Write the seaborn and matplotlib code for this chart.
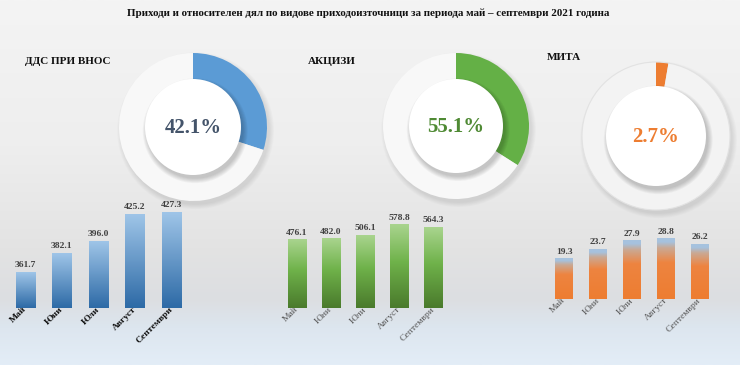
import numpy as np
import seaborn as sns
from matplotlib import pyplot as plt
from matplotlib.colors import LinearSegmentedColormap
from matplotlib.patches import Circle
from matplotlib.transforms import ScaledTranslation

months = ["Май", "Юни", "Юли", "Август", "Септември"]
vat_import = [361.7, 382.1, 396.0, 425.2, 427.3]
excise = [476.1, 482.0, 506.1, 578.8, 564.3]
customs = [19.3, 23.7, 27.9, 28.8, 26.2]

section_titles = ["ДДС ПРИ ВНОС", "АКЦИЗИ", "МИТА"]
shares = [42.1, 55.1, 2.7]
# arc that is actually painted on each ring in the picture (% of full circle)
ring_arc = [30.0, 34.0, 2.7]

title = "Приходи и относителен дял по видове приходоизточници за периода май – септември 2021 година"

W, H = 740, 365

sns.set_style("white")
plt.rcParams["font.family"] = ["Liberation Serif", "DejaVu Serif"]

fig = plt.figure(figsize=(W / 100, H / 100), dpi=100)


def px_axes(left, top, width, height, **kw):
    return fig.add_axes([left / W, 1 - (top + height) / H, width / W, height / H], **kw)


# background gradient
bg = px_axes(0, 0, W, H, zorder=-10)
stops = [(0.0, "#f4f4f4"), (0.4, "#eeeeee"), (0.68, "#e3e3e3"), (0.82, "#dcdee1"),
         (0.9, "#dde6ef"), (1.0, "#e3edf7")]
bg_cmap = LinearSegmentedColormap.from_list("bg", stops)
bg.imshow(np.linspace(0, 1, 256)[:, None], cmap=bg_cmap, aspect="auto", extent=[0, 1, 1, 0])
bg.set_axis_off()

fig.text(368 / W, 1 - 13 / H, title, ha="center", va="center", fontsize=7.9,
         fontweight="bold", color="#111111")

# donuts
donut_specs = [
    # cx, cy, r_out, r_in, arc colour, text colour, ring colour
    (193, 127, 74, 48, "#5b9bd5", "#44546a", "#f8f8f8"),
    (456, 126, 73, 47, "#64b046", "#4f8a34", "#f8f8f8"),
    (656, 136, 74, 50, "#ed7d31", "#ed7d31", "#f3f3f3"),
]
for (cx, cy, r_out, r_in, col, tcol, ring), share, arc in zip(donut_specs, shares, ring_arc):
    half = r_out + 12
    ax = px_axes(cx - half, cy - half, 2 * half, 2 * half)
    lim = half / r_out
    # soft shadow of the ring
    for k in range(6):
        ax.add_patch(Circle((0.035, -0.05), 1.0 + 0.012 * k, color="black", alpha=0.016, lw=0, zorder=0))
    wedges, _ = ax.pie([arc, 100 - arc], colors=[col, ring], startangle=90, counterclock=False,
                       radius=1.0, wedgeprops={"width": 1 - r_in / r_out + 0.05, "linewidth": 0})
    for w in wedges:
        w.set_zorder(1)
    if ring == "#f3f3f3":
        ax.add_patch(Circle((0, 0), 1.0, fill=False, ec="#e2e2e2", lw=0.8, zorder=2))
    rin = r_in / r_out
    for k in range(6):
        ax.add_patch(Circle((0.03, -0.05), rin + 0.012 * k, color="black", alpha=0.035, lw=0, zorder=3))
    ax.add_patch(Circle((0, 0), rin, color="white", lw=0, zorder=4))
    ax.text(0, -0.02, f"{share:.1f}%", ha="center", va="center", fontsize=15,
            fontweight="bold", color=tcol, zorder=5)
    ax.set_xlim(-lim, lim)
    ax.set_ylim(-lim, lim)
    ax.set_aspect("equal")
    ax.set_axis_off()

for txt, (x, y) in zip(section_titles, [(25, 61), (308, 61), (547, 57)]):
    fig.text(x / W, 1 - y / H, txt, ha="left", va="center", fontsize=8.0,
             fontweight="bold", color="#111111")


def gradient_bars(ax, stops):
    cmap = LinearSegmentedColormap.from_list("g", stops)
    y_lo = ax.get_ylim()[0]
    xl, yl = ax.get_xlim(), ax.get_ylim()
    for p in ax.patches:
        x, w = p.get_x(), p.get_width()
        y0 = max(p.get_y(), y_lo)
        y1 = p.get_y() + p.get_height()
        ax.imshow(np.linspace(1, 0, 128)[:, None], cmap=cmap, aspect="auto",
                  extent=[x, x + w, y0, y1], clip_path=p, zorder=2)
        p.set_facecolor("none")
    ax.set_xlim(xl)
    ax.set_ylim(yl)


bar_specs = [
    # data, left, width, bottom, height, ylim, gradient stops (bottom->top), label style
    (vat_import, 7, 182.5, 308, 108, (321.7, 441.7),
     [(0, "#2d6aa6"), (1, "#9fc5e8")], ("bold", "#111111")),
    (excise, 279.6, 171, 308.3, 100, (0, 697),
     [(0, "#4a7a2c"), (0.55, "#6fb24a"), (1, "#a9d48e")], ("normal", "#555555")),
    (customs, 547.2, 169.5, 299.3, 80, (0, 38.3),
     [(0, "#ed7d31"), (0.6, "#ee8440"), (0.84, "#caa994"), (0.94, "#a6c2de"), (1, "#a6c2de")],
     ("normal", "#555555")),
]

for vals, left, width, bottom, height, ylim, stops, (tw, tc) in bar_specs:
    ax = px_axes(left, bottom - height, width, height)
    ax.patch.set_alpha(0)
    sns.barplot(x=months, y=vals, order=months, ax=ax, width=0.53, color="#888888",
                linewidth=0, saturation=1)
    ax.set_xlim(-0.5, 4.5)
    ax.set_ylim(*ylim)
    gradient_bars(ax, stops)
    for c in ax.containers:
        ax.bar_label(c, fmt="%.1f", padding=2.5, fontsize=6.8, fontweight="bold", color="#404040")
    ax.set_xticks(range(len(months)))
    ax.set_xticklabels(months, rotation=45, ha="right", va="center", rotation_mode="anchor",
                       fontsize=6.8, fontweight=tw, color=tc)
    off = ScaledTranslation(5 / 100, -5 / 100, fig.dpi_scale_trans)
    for lab in ax.get_xticklabels():
        lab.set_transform(lab.get_transform() + off)
    ax.tick_params(axis="x", length=0, pad=0)
    ax.set_yticks([])
    ax.set_xlabel("")
    ax.set_ylabel("")
    sns.despine(ax=ax, left=True, bottom=True)

fig.savefig("out.png", dpi=100)
